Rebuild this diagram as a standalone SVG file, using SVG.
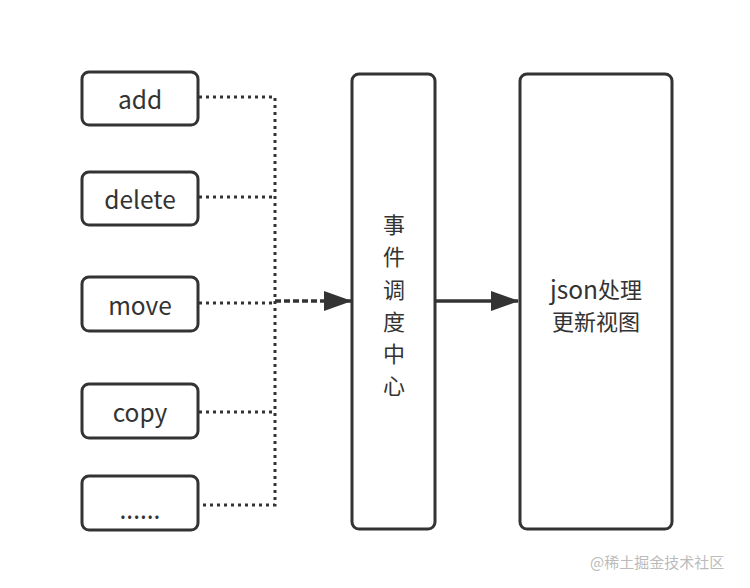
<svg xmlns="http://www.w3.org/2000/svg" width="750" height="588" viewBox="0 0 750 588">
<style>
.box{fill:#fff;stroke:#333;stroke-width:3}
.t{font-family:"Noto Sans CJK SC","Liberation Sans",sans-serif;font-size:22px;fill:#333;text-anchor:middle;dominant-baseline:central}
.l{font-size:24.5px}
.dot{fill:none;stroke:#333;stroke-width:3;stroke-dasharray:3 4}
.wm{font-family:"Noto Sans CJK SC",sans-serif;font-size:15px;fill:#bbb}
</style>
<defs>
<marker id="ah2" viewBox="0 0 28 20" refX="27" refY="10" markerWidth="28" markerHeight="20" orient="auto" markerUnits="userSpaceOnUse">
<path d="M0,0 L28,10 L0,20 z" fill="#333"/>
</marker>
</defs>
<rect width="750" height="588" fill="#fff"/>
<g id="connectors">
<path class="dot" d="M199,97 H275 V505 H199"/>
<path class="dot" d="M199,197 H275"/>
<path class="dot" d="M199,303 H275"/>
<path class="dot" d="M199,412 H275"/>
<path d="M275,301 H351" fill="none" stroke="#333" stroke-width="3.5" stroke-dasharray="6 3" marker-end="url(#ah2)"/>
<path d="M435,301 H518" fill="none" stroke="#333" stroke-width="3.5" marker-end="url(#ah2)"/>
</g>
<g id="add"><rect class="box" x="82" y="72" width="116" height="53" rx="7"/><text class="t l" x="140" y="98">add</text></g>
<g id="delete"><rect class="box" x="82" y="172" width="116" height="53" rx="7"/><text class="t l" x="140" y="198">delete</text></g>
<g id="move"><rect class="box" x="82" y="277" width="116" height="54" rx="7"/><text class="t l" x="140" y="304">move</text></g>
<g id="copy"><rect class="box" x="82" y="384" width="116" height="54" rx="7"/><text class="t l" x="140" y="411">copy</text></g>
<g id="more"><rect class="box" x="82" y="476" width="116" height="54" rx="7"/><text class="t l" x="140" y="508">......</text></g>
<g id="center"><rect class="box" x="352" y="74" width="83" height="455" rx="7"/>
<text class="t" x="394" y="223">事</text>
<text class="t" x="394" y="255">件</text>
<text class="t" x="394" y="288">调</text>
<text class="t" x="394" y="320">度</text>
<text class="t" x="394" y="352">中</text>
<text class="t" x="394" y="384">心</text>
</g>
<g id="json"><rect class="box" x="520" y="74" width="152" height="455" rx="7"/>
<text class="t" x="596" y="288"><tspan font-size="24.5">json</tspan>处理</text>
<text class="t" x="596" y="320" font-size="23">更新视图</text>
</g>
<text class="wm" x="590" y="568">@稀土掘金技术社区</text>
</svg>
